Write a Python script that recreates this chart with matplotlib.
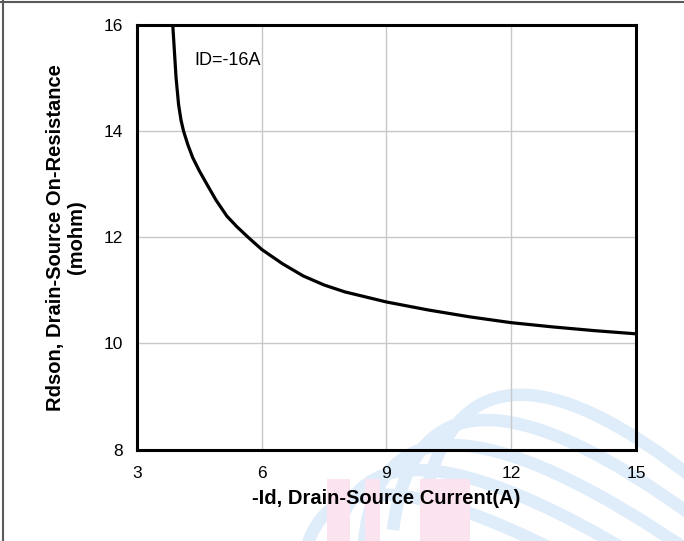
import numpy as np
import matplotlib
matplotlib.use('Agg')
import matplotlib.pyplot as plt
from matplotlib.lines import Line2D
from matplotlib.path import Path
from matplotlib.patches import PathPatch, Rectangle

plt.rcParams['font.family'] = ['Liberation Sans', 'DejaVu Sans']

# data (ID=-16A)
id_a = [3.86, 3.94, 4.0, 4.06, 4.12, 4.22, 4.34, 4.5, 4.68, 4.9, 5.16, 5.4, 5.7,
        6.0, 6.5, 7.0, 7.5, 8.0, 9.0, 10.0, 11.0, 12.0, 13.0, 14.0, 15.0]
rdson = [16.0, 15.0, 14.5, 14.2, 14.0, 13.75, 13.5, 13.25, 13.0, 12.7, 12.4, 12.2, 11.98,
         11.77, 11.5, 11.27, 11.1, 10.97, 10.78, 10.63, 10.5, 10.39, 10.31, 10.24, 10.18]
xticks = [3, 6, 9, 12, 15]
yticks = [8, 10, 12, 14, 16]

W, H = 684, 541
fig = plt.figure(figsize=(W/100, H/100), dpi=100)

def px(x, y):
    return (x/W, 1 - y/H)

# faint watermark behind the chart
tr = fig.transFigure
for k in range(5):
    P = np.array([513 - 30*k, 395 + 25*k])
    S = np.array([P[0] - 90, P[1] + 110])
    E = np.array([700, P[1] + 0.42*(700 - P[0]) + 10])
    C = 2*P - (S + E)/2
    verts = [px(*S), px(*C), px(*E)]
    pth = Path(verts, [Path.MOVETO, Path.CURVE3, Path.CURVE3])
    fig.add_artist(PathPatch(pth, fill=False, edgecolor='#dfecfa', lw=9,
                             capstyle='butt', transform=tr, zorder=-1))
for x0, x1 in [(327, 350), (365, 380), (420, 470)]:
    fig.add_artist(Rectangle(px(x0, 541), (x1-x0)/W, 62/H, transform=tr,
                             facecolor='#fbe3ef', edgecolor='none', zorder=-1))

ax = fig.add_axes([137/W, 1-449.5/H, (636-137)/W, (449.5-25)/H])
ax.set_facecolor('none')
ax.plot(id_a, rdson, color='black', lw=2.3, solid_joinstyle='round', zorder=3)

ax.set_xlim(3, 15)
ax.set_ylim(8, 16)
ax.set_xticks(xticks)
ax.set_yticks(yticks)
ax.grid(True, color='#c8c8c8', lw=1)
ax.tick_params(length=0, labelsize=12.5, pad=10)
ax.tick_params(axis='x', pad=12)
for s in ax.spines.values():
    s.set_linewidth(2.2)
    s.set_color('black')
    s.set_zorder(4)

ax.set_xlabel('-Id, Drain-Source Current(A)', fontsize=14.5, fontweight='bold', labelpad=6)
ax.set_ylabel('Rdson, Drain-Source On-Resistance\n(mohm)', fontsize=14.5,
              fontweight='bold', labelpad=13, linespacing=1.1)

ax.text(4.37, 15.34, 'ID=-16A', fontsize=13, va='center', ha='left')

# gray frame at top and left of the picture
fig.add_artist(Line2D([0, 1], [1 - 1.5/H, 1 - 1.5/H], color='#5a5a5a', lw=1.5, transform=tr))
fig.add_artist(Line2D([2.5/W, 2.5/W], [0, 1], color='#5a5a5a', lw=1.5, transform=tr))

fig.savefig('out.png', dpi=100)
